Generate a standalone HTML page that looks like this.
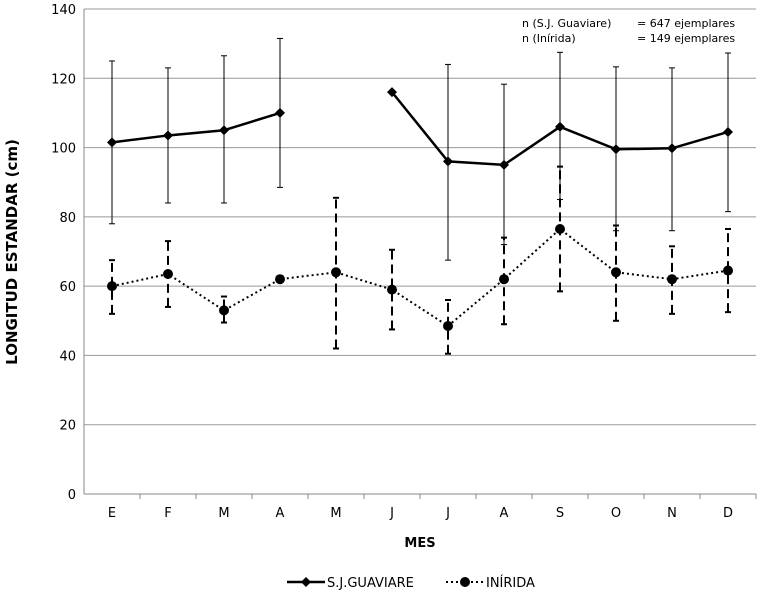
<!DOCTYPE html>
<html><head><meta charset="utf-8"><style>
body{margin:0;background:#fff;}
svg{display:block;font-family:"DejaVu Sans","Liberation Sans",sans-serif;}
</style></head><body>
<svg id="c" width="764" height="596"></svg>
<script>
const categories=["E","F","M","A","M","J","J","A","S","O","N","D"];
const guaviare=[101.5,103.5,105,110,null,116,96,95,106,99.5,99.8,104.5];
const guavLow=[78,84,84,88.5,null,null,67.5,72,85,76,76,81.5];
const guavHigh=[125,123,126.5,131.5,null,null,124,118.3,127.5,123.3,123,127.3];
const inirida=[60,63.5,53,62,64,59,48.5,62,76.5,64,62,64.5];
const iniLow=[52,54,49.5,null,42,47.5,40.5,49,58.5,50,52,52.5];
const iniHigh=[67.5,73,57,null,85.5,70.5,56,74,94.5,77.5,71.5,76.5];
const yTicks=[0,20,40,60,80,100,120,140];
const NS="http://www.w3.org/2000/svg";
const svg=document.getElementById('c');
function el(t,a,txt){const e=document.createElementNS(NS,t);for(const k in a)e.setAttribute(k,a[k]);if(txt!=null)e.textContent=txt;svg.appendChild(e);return e;}
const x0=84,x1=756,yTop=9,yBot=494;
const step=(x1-x0)/categories.length;
const X=i=>x0+step*(i+0.5);
const Y=v=>yBot-(v/140)*(yBot-yTop);
yTicks.forEach(t=>{
  let g=el('line',{x1:x0,x2:x1,y1:Y(t),y2:Y(t),stroke:t===0?'#888':'#999','stroke-width':1});
  
  
  let l=el('text',{x:x0-8,y:Y(t)+5,'text-anchor':'end','font-size':13},t);
  
  
});
let ya=el('line',{x1:x0,x2:x0,y1:yTop,y2:yBot,stroke:'#888'});


categories.forEach((c,i)=>{
  let l=el('text',{x:X(i),y:517,'text-anchor':'middle','font-size':13},c);
  
  
  let tk=el('line',{x1:x0+step*(i+1),x2:x0+step*(i+1),y1:yBot,y2:yBot+5,stroke:'#888'});
  
  
});
function errs(lo,hi,dash){
  lo.forEach((v,i)=>{
    if(v==null)return;
    let a={x1:X(i),x2:X(i),y1:Y(v),y2:Y(hi[i]),stroke:'#000','stroke-width':dash?2:1};
    if(dash)a['stroke-dasharray']='9,5';
    let e=el('line',a);
    
    
    [v,hi[i]].forEach(w=>{let c=el('line',{x1:X(i)-3,x2:X(i)+3,y1:Y(w),y2:Y(w),stroke:'#000','stroke-width':dash?2:1});
      
      });
  });
}
errs(guavLow,guavHigh,false);
errs(iniLow,iniHigh,true);
function series(vals,dash,marker,name){
  let segs=[],cur=[];
  vals.forEach((v,i)=>{if(v==null){if(cur.length)segs.push(cur);cur=[];}else cur.push(X(i)+','+Y(v));});
  if(cur.length)segs.push(cur);
  segs.forEach(s=>{let a={points:s.join(' '),fill:'none',stroke:'#000','stroke-width':dash?2:2.5};
    if(dash)a['stroke-dasharray']='2,3';
    let p=el('polyline',a);
    
    });
  vals.forEach((v,i)=>{if(v==null)return;let m;
    if(marker==='d'){const x=X(i),y=Y(v);m=el('polygon',{points:`${x},${y-5} ${x+5},${y} ${x},${y+5} ${x-5},${y}`,fill:'#000'});}
    else m=el('circle',{cx:X(i),cy:Y(v),r:5,fill:'#000'});
    
    });
}
series(guaviare,false,'d','guaviare');
series(inirida,true,'c','inirida');
let t1=el('text',{x:522,y:27,'font-size':11},'n (S.J. Guaviare)');

let t2=el('text',{x:637,y:27,'font-size':11},'= 647 ejemplares');

let t3=el('text',{x:522,y:42,'font-size':11},'n (Inírida)');

let t4=el('text',{x:637,y:42,'font-size':11},'= 149 ejemplares');

let xt=el('text',{x:420,y:547,'text-anchor':'middle','font-size':13,'font-weight':'bold'},'MES');

let yt=el('text',{x:0,y:0,'text-anchor':'middle','font-size':15,'font-weight':'bold',transform:'translate(17,252) rotate(-90)'},'LONGITUD ESTANDAR (cm)');

let l1=el('line',{x1:287,x2:325,y1:582,y2:582,stroke:'#000','stroke-width':2.5});

let lm=el('polygon',{points:'306,577 311,582 306,587 301,582',fill:'#000'});

let lt=el('text',{x:327,y:587,'font-size':13},'S.J.GUAVIARE');

let l2=el('line',{x1:446,x2:484,y1:582,y2:582,stroke:'#000','stroke-width':2,'stroke-dasharray':'2,3'});

let lc=el('circle',{cx:465,cy:582,r:5,fill:'#000'});

let lt2=el('text',{x:486,y:587,'font-size':13},'INÍRIDA');

</script>
</body></html>
